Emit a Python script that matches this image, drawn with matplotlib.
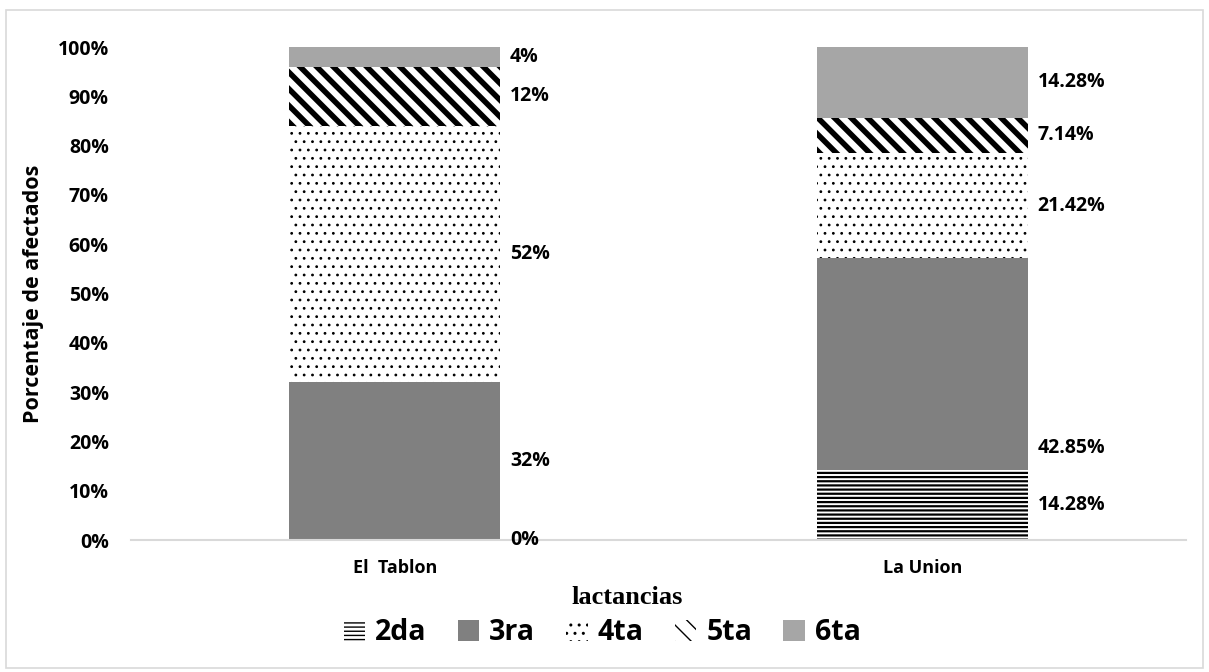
import numpy as np
import matplotlib
matplotlib.use("Agg")
import matplotlib.pyplot as plt
from matplotlib.patches import Rectangle
from matplotlib.ticker import PercentFormatter

# stacked shares per site (percent)
sites = ["El  Tablon", "La Union"]
series = ["2da", "3ra", "4ta", "5ta", "6ta"]
tablon = [0, 32, 52, 12, 4]
union = [14.28, 42.85, 21.42, 7.14, 14.28]
tablon_labels = ["0%", "32%", "52%", "12%", "4%"]
union_labels = ["14.28%", "42.85%", "21.42%", "7.14%", "14.28%"]

# label nudges (percent points) where the label sits off the segment centre
tablon_shift = [0, 0, 0, 0, 0]
union_shift = [0, -17, 0, 0, 0]

styles = {
    "2da": dict(color="white", hatch="----", edgecolor="black", hlw=1.6),
    "3ra": dict(color="#808080", hatch=None, edgecolor="#808080", hlw=1.0),
    "4ta": dict(color="white", hatch="..", edgecolor="black", hlw=0.8),
    "5ta": dict(color="white", hatch="\\\\", edgecolor="black", hlw=4.0),
    "6ta": dict(color="#A6A6A6", hatch=None, edgecolor="#A6A6A6", hlw=1.0),
}

FONT = "Open Sans"
plt.rcParams["font.family"] = FONT

fig = plt.figure(figsize=(12.09, 6.72), dpi=100)
ax = fig.add_axes([0.1084, 0.1964, 0.8726, 0.7336])

# light frame round the whole figure
fig.patches.append(Rectangle((6 / 1209, 4 / 672), 1197 / 1209, 658 / 672,
                             transform=fig.transFigure, fill=False,
                             edgecolor="#D9D9D9", linewidth=1.2))

x = np.arange(len(sites))
width = 0.4
data = np.array([tablon, union])
bottoms = np.zeros(len(sites))
handles = []
for i, name in enumerate(series):
    st = styles[name]
    with plt.rc_context({"hatch.linewidth": st["hlw"]}):
        bars = ax.bar(x, data[:, i], width, bottom=bottoms, color=st["color"],
                      edgecolor=st["edgecolor"], hatch=st["hatch"],
                      linewidth=0, label=name)
        for b in bars:
            if hasattr(b, "set_hatch_linewidth"):
                b.set_hatch_linewidth(st["hlw"])
    handles.append(bars)
    bottoms = bottoms + data[:, i]

# value labels to the right of each bar
for j, (vals, labs, shifts) in enumerate([(tablon, tablon_labels, tablon_shift),
                                          (union, union_labels, union_shift)]):
    base = 0
    for v, lab, s in zip(vals, labs, shifts):
        yc = base + v / 2 + s
        ax.annotate(lab, (x[j] + width / 2, yc), xytext=(7, 0),
                    textcoords="offset points", ha="left", va="center",
                    fontsize=14, fontweight="bold", family=FONT)
        base += v

ax.set_xlim(-0.5, 1.5)
ax.set_ylim(0, 100)
ax.set_yticks(np.arange(0, 101, 10))
ax.yaxis.set_major_formatter(PercentFormatter(decimals=0))
ax.set_xticks(x)
ax.set_xticklabels(sites)
ax.tick_params(axis="y", length=0, pad=16, labelsize=14)
ax.tick_params(axis="x", length=0, pad=14, labelsize=13)
for lab in ax.get_xticklabels() + ax.get_yticklabels():
    lab.set_fontweight("bold")

for side in ["top", "right", "left"]:
    ax.spines[side].set_visible(False)
ax.spines["bottom"].set_color("#D9D9D9")
ax.spines["bottom"].set_linewidth(1.5)

ax.set_ylabel("Porcentaje de afectados", fontsize=15.5, fontweight="bold", labelpad=10)
ax.set_xlabel("lactancias", fontsize=19, fontweight="bold",
              family="Liberation Serif", labelpad=6)
ax.xaxis.label.set_x(0.47)

leg = fig.legend(handles=handles, labels=series, loc="center",
                 bbox_to_anchor=(0.498, 1 - 633 / 672), ncol=5, frameon=False,
                 prop=dict(family=FONT, weight="bold", size=20.5),
                 handlelength=0.75, handleheight=0.75, handletextpad=0.35,
                 columnspacing=1.1)

fig.savefig("out.png", dpi=100)
